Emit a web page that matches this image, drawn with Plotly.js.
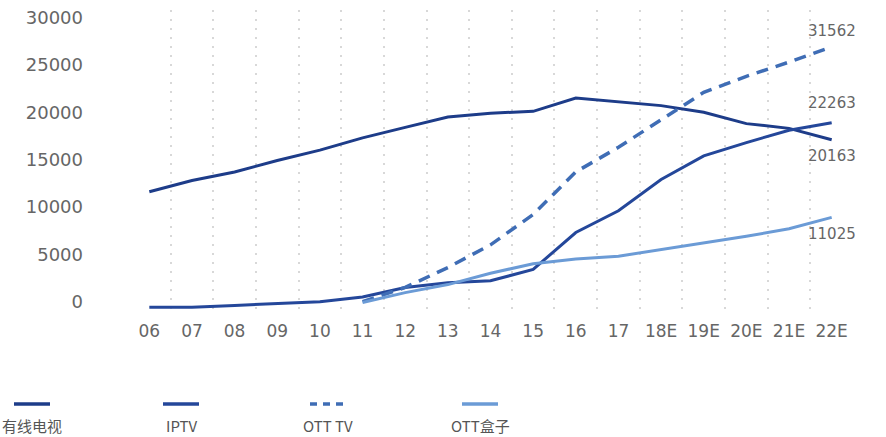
<!DOCTYPE html>
<html>
<head>
<meta charset="utf-8">
<script src="https://cdn.plot.ly/plotly-3.0.1.min.js"></script>
<style>html,body{margin:0;padding:0;background:#fff;}#chart{width:886px;height:437px;}</style>
</head>
<body>
<div id="chart"></div>
<script>
var categories = ['06','07','08','09','10','11','12','13','14','15','16','17','18E','19E','20E','21E','22E'];
var cableTV = [11600,12800,13700,14900,16000,17300,18400,19500,19900,20100,21500,21100,20700,20000,18800,18300,17100];
var iptv    = [-600,-600,-400,-200,0,500,1500,2000,2200,3400,7300,9600,12900,15400,16800,18100,18900];
var ottTV   = [null,null,null,null,null,0,1500,3600,6000,9200,13700,16300,19200,22100,23800,25300,26900];
var ottBox  = [null,null,null,null,null,-100,950,1800,3000,4000,4500,4800,5500,6200,6900,7700,8900];
var seriesNames = ['有线电视','IPTV','OTT TV','OTT盒子'];
var endLabels = ['31562','22263','20163','11025'];
var yTicks = [0,5000,10000,15000,20000,25000,30000];

var colors = ['#1d3c89','#24479a','#3f6db5','#6b9bd6'];
var dashes = ['solid','solid','12px,8px','solid'];
var seriesData = [cableTV, iptv, ottTV, ottBox];

var traces = seriesData.map(function(d,i){
  return {x: categories, y: d, type:'scatter', mode:'lines', name: seriesNames[i],
    line:{color: colors[i], width: i===2 ? 3.5 : 3, dash: dashes[i]}, connectgaps:false, showlegend:false};
});

var labelY = [28600, 21000, 15400, 7100];
var annotations = endLabels.map(function(t,i){
  return {x: categories[categories.length-1], y: labelY[i], xref:'x', yref:'y', text: t, showarrow:false,
    font:{family:'DejaVu Sans, sans-serif', size:15, color:'#666'}, xanchor:'center', yanchor:'middle'};
});

var legendX = [32, 181, 328, 480];
var shapes = [];
var W = 886, L = 128, R = 33, plotW = W - L - R;
var H = 437, T = 10, B = 124, plotH = H - T - B;
function px2paperX(px){ return (px - L) / plotW; }
function px2paperY(py){ return (H - B - py) / plotH; }
seriesNames.forEach(function(n,i){
  shapes.push({type:'line', xref:'paper', yref:'paper',
    x0: px2paperX(legendX[i]-18), x1: px2paperX(legendX[i]+18),
    y0: px2paperY(404), y1: px2paperY(404),
    line:{color: colors[i], width: 3.5, dash: i===2 ? '7px,6px' : 'solid'}});
  annotations.push({xref:'paper', yref:'paper', x: px2paperX(legendX[i]), y: px2paperY(425),
    text: n, showarrow:false, xanchor:'center', yanchor:'middle',
    font:{family:'Noto Sans CJK SC, sans-serif', size:15, color:'#555'}});
});

var layout = {
  width: 886, height: 437,
  margin:{l:L, r:R, t:T, b:B},
  paper_bgcolor:'#fff', plot_bgcolor:'#fff',
  showlegend:false,
  xaxis:{type:'category', range:[-0.5,16.5], tickson:'boundaries', showgrid:true, griddash:'2px,7px',
    gridcolor:'#d8d8d8', gridwidth:2, showline:false, zeroline:false, ticks:'',
    tickfont:{family:'DejaVu Sans, sans-serif', size:17, color:'#666'}, ticklabelstandoff:6},
  yaxis:{range:[-1200,30800], tickvals:yTicks, ticktext: yTicks.map(String), showgrid:false, zeroline:false,
    showline:false, ticks:'', ticklabelstandoff:44,
    tickfont:{family:'DejaVu Sans, sans-serif', size:18, color:'#666'}},
  annotations: annotations,
  shapes: shapes
};

Plotly.newPlot('chart', traces, layout, {displayModeBar:false, staticPlot:true});
</script>
</body>
</html>
